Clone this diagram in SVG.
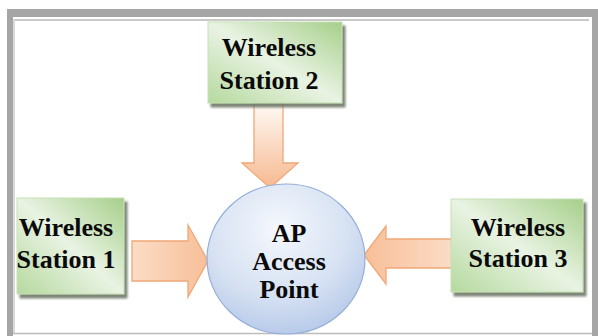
<svg xmlns="http://www.w3.org/2000/svg" width="598" height="336" viewBox="0 0 598 336">
  <defs>
    <style>
      text { font-family: 'Liberation Serif', 'DejaVu Serif', serif; font-weight: 700; font-size: 26px; fill: #0a0a0a; text-anchor: middle; }
      .station { fill: url(#boxFill); stroke: #c5e0b4; stroke-width: 1; filter: url(#shadow); }
      .arrow { stroke: #f0a877; stroke-width: 1.3; stroke-linejoin: miter; }
    </style>
    <linearGradient id="boxFill" x1="1" y1="0" x2="0" y2="1">
      <stop offset="0" stop-color="#a6cf8a"/>
      <stop offset="0.5" stop-color="#e9f3e3"/>
      <stop offset="1" stop-color="#b5d99e"/>
    </linearGradient>
    <radialGradient id="apFill" cx="0.45" cy="0.3" r="0.75">
      <stop offset="0" stop-color="#f5f8fd"/>
      <stop offset="0.6" stop-color="#d6e1f2"/>
      <stop offset="1" stop-color="#b3c7e8"/>
    </radialGradient>
    <linearGradient id="arrowDown" x1="0" y1="0" x2="0" y2="1">
      <stop offset="0" stop-color="#fffaf6"/>
      <stop offset="1" stop-color="#f6b990"/>
    </linearGradient>
    <linearGradient id="arrowRight" x1="0" y1="0" x2="1" y2="0">
      <stop offset="0" stop-color="#fbdcc6"/>
      <stop offset="1" stop-color="#f7bf98"/>
    </linearGradient>
    <linearGradient id="arrowLeft" x1="1" y1="0" x2="0" y2="0">
      <stop offset="0" stop-color="#fbdcc6"/>
      <stop offset="1" stop-color="#f7bf98"/>
    </linearGradient>
    <filter id="shadow" x="-10%" y="-10%" width="125%" height="130%">
      <feDropShadow dx="3" dy="4" stdDeviation="1" flood-color="#66705f" flood-opacity="0.85"/>
    </filter>
  </defs>

  <!-- page background and frame -->
  <rect x="0" y="0" width="598" height="336" fill="#ffffff"/>
  <g id="frame">
    <rect x="7" y="9" width="591" height="8" fill="#a6a6a6"/>
    <rect x="7" y="9" width="6" height="327" fill="#a6a6a6"/>
    <rect x="592" y="9" width="6" height="327" fill="#a6a6a6"/>
    <line x1="15" y1="20" x2="589" y2="20" stroke="#c9c9c9" stroke-width="2"/>
    <line x1="14" y1="19" x2="14" y2="334" stroke="#dadada" stroke-width="2"/>
    <line x1="13" y1="333.5" x2="592" y2="333.5" stroke="#bdbdbd" stroke-width="1.5"/>
  </g>

  <!-- connectors: block arrows into the access point -->
  <g id="connectors">
    <path class="arrow" fill="url(#arrowDown)" d="M254,103 H283 V163 H298 L270,188 L242,163 H254 Z"/>
    <path class="arrow" fill="url(#arrowRight)" d="M132,241 H188 V225 L208,261 L188,297 V281 H132 Z"/>
    <path class="arrow" fill="url(#arrowLeft)" d="M452,239 H386 V226 L364,255 L386,284 V268 H452 Z"/>
  </g>

  <g id="ap">
    <ellipse cx="286" cy="259" rx="79" ry="75" fill="url(#apFill)" stroke="#93aed8" stroke-width="1.2"/>
    <text x="289" y="242">AP</text>
    <text x="289" y="270">Access</text>
    <text x="289" y="298">Point</text>
  </g>

  <g id="station2">
    <rect class="station" x="208" y="22" width="134" height="81"/>
    <text x="269" y="56">Wireless</text>
    <text x="269" y="89">Station 2</text>
  </g>

  <g id="station1">
    <rect class="station" x="17" y="198" width="107" height="96"/>
    <text x="66" y="236">Wireless</text>
    <text x="66" y="268">Station 1</text>
  </g>

  <g id="station3">
    <rect class="station" x="451" y="199" width="132" height="93"/>
    <text x="518" y="236">Wireless</text>
    <text x="518" y="267">Station 3</text>
  </g>
</svg>
